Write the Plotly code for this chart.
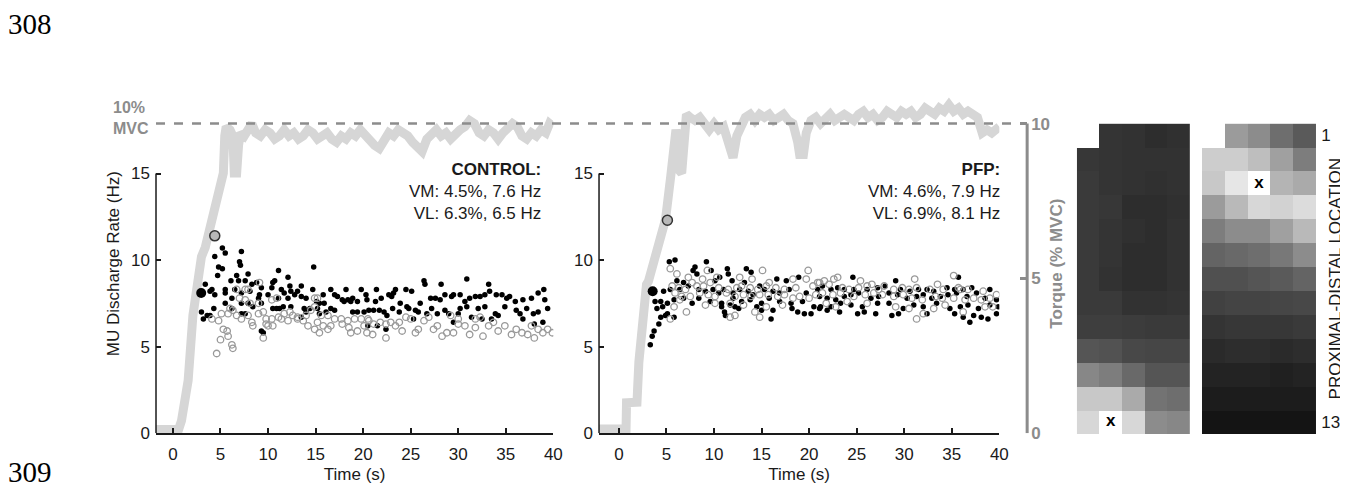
import plotly.graph_objects as go

W, H = 1348, 490
FONT = "Liberation Sans"
GRAY = "#8c8c8c"

# ---- torque traces (% MVC) ----
ctrl_torque_t = [-1.78, 0.6, 0.9, 1.2, 1.6, 2.1, 2.6, 2.9, 3.0, 3.4, 3.75, 4.4, 4.9, 5.3, 5.45, 5.6, 6.0, 6.3,
                 6.45, 6.7, 6.9, 7.1, 7.5, 8.0, 8.3, 8.7, 9.2, 9.7, 10.2, 10.7, 11.2, 11.7, 12.2, 12.7, 13.2,
                 13.7, 14.2, 14.7, 15.2, 15.7, 16.2, 16.7, 17.2, 17.7, 18.2, 18.7, 19.2, 19.7, 20.2, 20.7,
                 21.2, 21.7, 22.2, 22.7, 23.2, 23.7, 24.2, 24.7, 25.2, 25.7, 26.2, 26.7, 27.2, 27.7, 28.2,
                 28.7, 29.2, 29.7, 30.2, 30.7, 31.2, 31.7, 32.2, 32.7, 33.2, 33.7, 34.2, 34.7, 35.2, 35.7,
                 36.2, 36.7, 37.2, 37.7, 38.2, 38.7, 39.2, 39.6, 40.0]
ctrl_torque = [0.12, 0.12, 0.4, 1.0, 1.7, 3.8, 4.9, 5.4, 5.7, 6.0, 6.4, 7.3, 7.8, 8.4, 9.6, 9.9, 9.8, 9.6,
               8.4, 8.4, 9.3, 9.7, 9.6, 9.9, 10.0, 9.7, 9.6, 9.8, 9.7, 9.5, 9.6, 9.8, 9.6, 9.7, 9.5,
               9.6, 9.8, 9.7, 9.5, 9.6, 9.7, 9.5, 9.4, 9.6, 9.5, 9.7, 9.6, 9.8, 9.6, 9.4,
               9.3, 9.2, 9.5, 9.7, 9.6, 9.8, 9.7, 9.6, 9.4, 9.2, 9.1, 9.5, 9.7, 9.8, 9.6,
               9.7, 9.5, 9.7, 9.8, 9.9, 10.1, 10.0, 9.7, 9.6, 9.8, 9.7, 9.5, 9.7, 9.9, 10.0,
               9.9, 9.6, 9.5, 9.7, 9.6, 9.8, 9.7, 10.0, 9.9]

pfp_torque_t = [-2.09, 0.75, 0.8, 1.9, 2.1, 2.5, 2.9, 3.1, 3.7, 4.3, 4.9, 5.45, 5.8, 6.0, 6.15, 6.3, 6.6,
                6.8, 7.1, 7.5, 8.0, 8.5, 9.0, 9.5, 10.0, 10.5, 11.0, 11.4, 11.7, 12.0, 12.4, 12.8, 13.3,
                13.8, 14.3, 14.8, 15.3, 15.8, 16.3, 16.8, 17.3, 17.8, 18.3, 18.8, 19.0, 19.4, 19.7, 20.2,
                20.7, 21.2, 21.7, 22.2, 22.7, 23.2, 23.7, 24.2, 24.7, 25.2, 25.7, 26.2, 26.7, 27.2, 27.7,
                28.2, 28.7, 29.2, 29.7, 30.2, 30.7, 31.2, 31.7, 32.2, 32.7, 33.2, 33.7, 34.2, 34.7, 35.2,
                35.7, 36.2, 36.7, 37.2, 37.7, 38.2, 38.7, 39.2, 39.7, 40.0]
pfp_torque = [0.13, 0.13, 0.98, 1.0, 2.3, 3.8, 4.8, 4.9, 5.6, 6.3, 6.9, 8.3, 9.5, 9.8, 9.5, 8.5, 8.4,
              9.8, 10.3, 10.2, 10.1, 10.2, 10.0, 9.8, 10.0, 9.8, 9.9, 9.4, 9.0, 8.9, 9.6, 9.9, 10.2,
              10.3, 10.1, 10.3, 10.2, 10.3, 10.1, 10.2, 10.3, 10.1, 10.0, 9.4, 9.0, 9.0, 9.7, 10.1,
              10.2, 10.0, 10.2, 10.3, 10.1, 10.2, 10.3, 10.2, 10.1, 10.3, 10.4, 10.2, 10.3, 10.1, 10.2,
              10.4, 10.3, 10.2, 10.4, 10.3, 10.4, 10.2, 10.3, 10.5, 10.4, 10.3, 10.5, 10.4, 10.6, 10.4,
              10.5, 10.3, 10.4, 10.3, 10.2, 9.7, 9.8, 9.7, 9.8, 9.9]

# ---- motor unit discharge rates (time s, Hz) ----
ctrl_vm = [(5.2,10.7),(5.5,10.4),(7.2,10.5),(4.4,10.2),(7.0,9.9),(7.1,9.7),(4.8,9.6),(5.2,9.5),(11.1,9.4),(14.8,9.6),
           (6.7,9.1),(7.9,9.2),(4.7,9.1),(12.1,9.0),(3.4,8.6),(6.1,8.8),(6.9,8.8),(7.6,8.8),(8.8,8.7),(10.7,8.8),
           (10.5,8.7),(4.1,8.3),(3.9,8.2),(5.5,8.3),(6.5,8.3),(8.3,8.6),(9.3,8.4),(10.4,8.4),(11.4,8.3),(12.3,8.5),
           (13.5,8.5),(12.4,8.2),(13.1,8.2),(14.7,8.3),(16.6,8.3),(18.2,8.3),(19.8,8.3),(4.4,8.0),(5.5,8.1),(7.2,8.1),
           (8.1,8.2),(9.1,8.0),(10.0,8.0),(11.7,8.1),(12.8,8.0),(13.5,7.9),(15.8,8.0),(17.0,8.0),(17.3,7.9),(17.8,7.7),
           (18.4,7.7),(18.9,7.8),(19.4,7.6),(20.3,8.0),(6.2,7.8),(9.0,7.8),(11.1,7.8),(12.1,7.8),(14.0,7.8),(15.1,7.6),
           (15.4,7.5),(15.9,7.5),(18.0,7.6),(18.7,7.6),(3.0,7.0),(3.6,6.8),(3.9,6.8),(3.2,6.6),(4.3,7.2),(5.5,7.5),
           (6.2,7.2),(7.2,7.5),(7.9,7.5),(8.4,7.3),(9.3,7.5),(10.5,7.2),(10.9,7.2),(11.2,7.2),(11.6,7.3),(12.4,7.3),
           (13.8,7.2),(14.4,7.2),(15.2,7.2),(16.1,7.0),(16.6,7.2),(17.0,7.1),(18.9,7.0),(19.4,7.0),(20.1,7.0),(7.2,6.9),
           (7.6,6.9),(14.0,7.0),(15.4,6.9),(13.5,6.7),(20.5,6.2),(9.3,5.9),(9.5,5.8),
           (26.4,8.8),(26.5,8.6),(30.9,8.9),(33.2,8.6),(28.2,8.6),(21.4,8.3),(23.4,8.3),(24.5,8.3),(25.1,8.2),(39.0,8.3),
           (20.4,7.7),(21.3,7.6),(21.9,7.8),(22.7,8.0),(23.0,7.9),(23.2,8.1),(23.9,7.5),(24.6,7.3),(26.0,7.5),(27.1,7.8),
           (27.6,7.8),(28.1,7.7),(28.6,8.0),(29.3,7.9),(29.5,8.0),(30.2,8.0),(30.7,7.6),(31.2,7.8),(31.8,7.9),(32.3,7.9),
           (32.8,8.0),(33.3,8.2),(34.0,8.0),(34.6,8.0),(35.1,7.8),(35.4,7.9),(36.0,7.6),(36.8,7.7),(37.7,7.8),(38.4,8.1),
           (39.1,7.7),(20.6,7.1),(21.1,7.1),(21.7,7.1),(22.2,7.0),(23.1,7.2),(23.8,7.0),(24.8,7.2),(25.5,7.1),(25.8,7.0),
           (27.2,7.2),(27.8,6.9),(28.6,7.1),(29.0,6.9),(30.2,7.2),(30.9,7.3),(32.1,7.2),(32.8,7.3),(33.9,6.9),(34.2,6.8),
           (34.9,7.3),(36.1,7.1),(36.5,6.9),(37.2,7.2),(37.9,6.9),(38.4,7.0),(39.4,7.2),(22.5,6.8),(25.3,6.6),(26.7,6.9),
           (30.0,6.9),(31.4,6.7),(32.5,6.6),(33.5,6.6),(36.8,6.6),(38.0,6.3),(38.9,6.4),(21.5,6.2),(22.4,6.0),(29.5,6.4)]

ctrl_vl = [(7.6,8.3),(7.9,8.3),(9.1,8.7),(6.7,8.3),(7.0,7.8),(7.6,7.7),(8.1,7.5),(9.0,7.5),(10.4,7.7),(10.9,7.8),
           (14.9,7.8),(15.2,7.8),(6.0,7.2),(6.3,7.1),(6.7,6.8),(7.9,6.8),(9.0,6.9),(9.5,7.0),(9.8,6.6),(11.1,6.7),
           (11.7,6.9),(12.3,7.0),(12.6,6.8),(13.1,6.7),(14.0,6.8),(14.5,7.1),(14.9,7.3),(15.6,6.8),(16.3,6.8),(17.0,6.6),
           (17.7,6.6),(18.4,6.5),(19.1,6.6),(19.8,6.6),(20.5,6.6),(5.1,6.9),(4.8,6.5),(5.3,6.0),(5.7,5.9),(5.8,5.6),
           (8.3,6.4),(8.4,6.2),(9.8,6.3),(10.0,6.2),(10.5,6.2),(11.4,6.6),(12.1,6.5),(13.1,6.6),(13.7,6.5),(15.2,6.4),
           (15.8,6.2),(16.3,6.0),(16.6,6.2),(17.8,6.3),(18.5,6.1),(19.4,5.9),(20.1,6.2),(5.0,5.4),(6.2,5.1),(6.3,4.9),
           (4.6,4.6),(9.5,5.5),(10.4,6.6),(14.2,6.2),(14.9,6.0),(15.4,5.8),(18.7,5.8),(7.2,6.6),(5.8,6.9),(4.1,6.6),
           (20.6,6.5),(21.1,6.3),(20.4,5.8),(21.0,5.7),(21.8,6.4),(22.4,6.3),(22.9,6.4),(23.4,6.2),(23.8,6.4),(24.1,5.9),
           (24.5,6.7),(25.0,6.6),(25.5,5.8),(25.8,6.0),(26.4,6.5),(26.9,6.7),(27.4,6.0),(27.8,6.2),(28.3,5.6),(28.8,5.8),
           (29.2,6.8),(29.5,5.8),(30.0,6.3),(30.7,6.2),(31.2,5.7),(31.8,6.1),(32.3,6.7),(32.6,5.6),(33.2,6.2),(33.7,6.4),
           (34.2,5.9),(34.9,6.2),(35.6,5.7),(36.1,6.0),(36.7,5.8),(37.3,5.7),(37.7,6.2),(38.4,6.0),(38.9,5.8),(39.4,6.0),
           (39.9,5.8),(22.4,5.5),(38.0,5.5),(31.8,6.6),(30.0,6.6)]

pfp_vm = [(5.3,9.9),(5.9,10.0),(9.2,9.9),(8.0,9.6),(7.8,9.4),(8.2,9.2),(9.7,9.4),(11.4,9.5),(13.4,9.5),(13.9,9.3),
          (11.5,9.2),(6.1,8.8),(6.8,8.7),(7.3,8.5),(10.1,8.8),(11.9,8.8),(10.6,9.0),(16.6,8.9),(17.6,8.8),(18.9,9.0),
          (13.2,8.7),(14.8,8.5),(4.7,8.2),(5.4,8.3),(6.4,8.3),(8.4,8.3),(9.1,8.2),(9.9,8.3),(10.5,8.1),(11.0,8.3),
          (12.0,8.1),(12.7,8.3),(13.6,8.2),(14.1,8.0),(15.3,8.3),(16.2,8.2),(16.9,8.1),(17.9,8.3),(19.7,8.1),(20.9,8.3),
          (3.8,7.6),(4.4,7.6),(5.1,7.5),(5.8,7.7),(6.8,7.8),(7.7,7.5),(8.4,7.8),(9.6,7.6),(10.8,7.5),(12.0,7.8),
          (12.9,7.6),(13.8,7.7),(15.0,7.5),(15.8,7.8),(16.9,7.6),(18.1,7.5),(19.3,7.6),(20.5,7.3),(4.0,7.2),(4.6,7.3),
          (5.1,6.9),(10.8,7.3),(11.7,7.4),(12.2,7.3),(12.6,7.2),(14.5,7.3),(15.0,7.1),(16.2,7.1),(18.2,7.2),(18.8,7.0),
          (19.5,6.9),(20.2,6.9),(21.1,7.2),(4.4,6.7),(4.9,6.8),(5.8,6.7),(11.1,7.0),(11.2,6.8),(16.0,6.6),(4.2,6.3),
          (3.7,5.9),(3.5,5.6),(3.3,5.1),
          (24.6,9.0),(29.1,8.8),(35.7,9.0),(21.4,8.5),(22.3,8.3),(23.0,8.4),(23.7,8.3),(24.7,8.3),(26.1,8.3),(27.2,8.4),
          (28.0,8.5),(29.6,8.3),(30.6,8.2),(31.5,8.3),(32.4,8.3),(33.1,8.2),(34.5,8.4),(35.3,8.3),(36.2,8.3),(37.1,8.4),
          (39.0,8.3),(21.1,7.9),(21.9,7.8),(22.8,7.7),(23.7,7.9),(24.4,8.0),(25.2,8.1),(26.5,7.8),(27.3,7.9),(28.4,8.1),
          (29.3,8.0),(30.3,7.8),(31.3,7.9),(32.0,8.0),(32.9,7.8),(33.8,7.9),(34.6,8.0),(35.5,8.1),(36.6,7.9),(37.6,8.1),
          (38.5,7.8),(39.7,7.7),(21.2,7.3),(22.3,7.3),(23.3,7.5),(24.4,7.4),(25.6,7.3),(27.2,7.5),(28.4,7.5),(29.9,7.2),
          (31.0,7.4),(32.0,7.3),(33.4,7.5),(34.8,7.2),(35.9,7.3),(36.7,7.4),(37.8,7.2),(39.0,7.4),(39.9,7.3),(21.9,7.1),
          (23.2,7.0),(25.1,6.9),(25.8,7.0),(27.0,6.9),(28.7,6.8),(29.4,6.9),(32.4,6.9),(35.3,6.9),(36.2,6.7),(37.3,6.8),
          (38.1,6.7),(38.8,6.6),(39.7,6.9),(36.9,6.4)]

pfp_vl = [(5.4,9.5),(6.1,9.2),(7.3,9.0),(9.3,9.4),(8.8,8.9),(10.3,9.0),(12.7,9.0),(14.0,8.9),(15.1,9.4),(15.8,8.7),
          (18.3,8.9),(19.7,8.9),(19.9,9.4),(20.9,8.7),(5.6,8.5),(6.3,8.4),(7.0,8.3),(7.7,8.7),(8.2,8.5),(8.9,8.5),
          (9.6,8.7),(10.5,8.4),(11.5,8.3),(12.4,8.4),(12.9,8.5),(13.8,8.4),(14.6,8.3),(15.5,8.5),(16.5,8.4),(17.4,8.3),
          (18.6,8.4),(20.4,8.5),(5.9,8.1),(6.6,7.9),(7.5,7.9),(8.5,8.1),(9.4,8.0),(10.1,7.9),(11.3,8.1),(12.2,7.9),
          (13.1,8.0),(13.9,7.9),(14.8,8.0),(15.7,8.0),(16.7,7.9),(17.4,8.0),(18.3,7.8),(19.0,7.9),(20.0,7.8),(20.7,8.0),
          (5.8,7.3),(6.4,7.7),(9.1,7.4),(10.1,7.5),(11.7,7.5),(13.1,7.4),(15.5,7.3),(17.2,7.4),(5.4,6.6),(7.1,7.0),
          (11.7,6.7),(12.2,6.8),(14.3,7.0),(14.8,6.7),
          (21.1,8.7),(21.6,8.8),(22.1,8.6),(22.6,8.9),(23.0,9.0),(25.4,8.8),(26.1,8.5),(26.6,8.6),(31.1,8.9),(33.5,8.6),
          (35.2,9.1),(35.7,8.4),(23.5,8.4),(24.2,8.3),(25.2,8.4),(27.3,8.3),(27.9,8.5),(28.9,8.3),(29.8,8.4),(30.5,8.3),
          (31.3,8.4),(32.7,8.3),(34.1,8.3),(35.9,8.3),(36.7,8.3),(38.3,8.2),(39.7,8.0),(21.4,8.1),(22.5,8.0),(23.3,8.1),
          (24.7,7.9),(25.9,8.0),(26.8,8.1),(27.7,8.0),(28.9,7.9),(29.9,8.0),(30.8,7.8),(31.9,7.7),(33.3,7.9),(34.0,7.8),
          (35.2,7.8),(36.4,7.7),(37.3,7.8),(38.1,7.7),(39.0,7.8),(21.8,7.5),(24.0,7.6),(26.1,7.5),(29.1,7.3),(30.5,7.2),
          (32.0,6.9),(33.1,7.2),(34.3,7.4),(36.2,7.0),(38.5,7.3),(39.3,7.3),(31.3,6.6),(22.8,7.3)]

# first-recruited units (big markers)
ctrl_first_vm = (2.97, 8.1)
ctrl_first_vl = (4.4, 11.4)
pfp_first_vm = (3.55, 8.2)
pfp_first_vl = (5.1, 12.3)

# ---- HD-EMG maps (gray level 0-255), 13 rows x 5 cols ----
vm_map = [[None, 52, 50, 45, 48],
          [55, 52, 50, 50, 50],
          [58, 52, 50, 48, 50],
          [58, 55, 45, 45, 48],
          [58, 52, 48, 45, 50],
          [58, 52, 45, 45, 50],
          [58, 50, 45, 45, 50],
          [58, 58, 50, 50, 52],
          [62, 62, 60, 58, 58],
          [85, 82, 72, 70, 70],
          [135, 125, 105, 85, 85],
          [200, 200, 170, 115, 110],
          [215, 255, 215, 140, 135]]
vl_map = [[None, 155, 140, 110, 90],
          [205, 205, 190, 160, 125],
          [200, 230, 255, 180, 170],
          [155, 185, 215, 210, 220],
          [125, 140, 140, 160, 185],
          [100, 105, 110, 120, 140],
          [80, 80, 85, 90, 100],
          [65, 68, 68, 70, 72],
          [52, 55, 55, 55, 58],
          [42, 45, 45, 42, 45],
          [35, 35, 35, 32, 35],
          [28, 28, 28, 28, 28],
          [20, 20, 20, 20, 20]]
vm_peak = (1, 12)
vl_peak = (2, 2)

time_ticks = [0, 5, 10, 15, 20, 25, 30, 35, 40]
rate_ticks = [0, 5, 10, 15]
torque_ticks = [0, 5, 10]


def px(x):
    return x / W


def py(y):
    return 1 - y / H


TORQUE_TOP = (434 - 88) / 31.6
RATE_TOP = (434 - 88) / 17.67

fig = go.Figure()


def add_panel(xa, ya_t, ya_r, tt, tv, vm, vl, first_vm, first_vl):
    fig.add_trace(go.Scatter(x=tt, y=tv, xaxis=xa, yaxis=ya_t, mode="lines",
                             line=dict(color="#d6d6d6", width=9), hoverinfo="skip"))
    fig.add_trace(go.Scatter(x=[p[0] for p in vm], y=[p[1] for p in vm], xaxis=xa, yaxis=ya_r,
                             mode="markers", marker=dict(color="black", size=5.5)))
    fig.add_trace(go.Scatter(x=[p[0] for p in vl], y=[p[1] for p in vl], xaxis=xa, yaxis=ya_r,
                             mode="markers", marker=dict(symbol="circle-open", color="#999999", size=6.5,
                                                         line=dict(width=1.3))))
    fig.add_trace(go.Scatter(x=[first_vm[0]], y=[first_vm[1]], xaxis=xa, yaxis=ya_r, mode="markers",
                             marker=dict(color="black", size=10)))
    fig.add_trace(go.Scatter(x=[first_vl[0]], y=[first_vl[1]], xaxis=xa, yaxis=ya_r, mode="markers",
                             marker=dict(color="#b8b8b8", size=10, line=dict(color="#333333", width=1.5))))


add_panel("x", "y", "y2", ctrl_torque_t, ctrl_torque, ctrl_vm, ctrl_vl, ctrl_first_vm, ctrl_first_vl)
add_panel("x2", "y3", "y4", pfp_torque_t, pfp_torque, pfp_vm, pfp_vl, pfp_first_vm, pfp_first_vl)

gray_scale = [[0, "black"], [1, "white"]]
for xa, ya, z, peak in [("x5", "y5", vm_map, vm_peak), ("x6", "y6", vl_map, vl_peak)]:
    fig.add_trace(go.Heatmap(z=z, xaxis=xa, yaxis=ya, colorscale=gray_scale, zmin=0, zmax=255,
                             showscale=False, hoverinfo="skip"))
    fig.add_trace(go.Scatter(x=[peak[0]], y=[peak[1]], xaxis=xa, yaxis=ya, mode="text", text=["<b>x</b>"],
                             textfont=dict(family=FONT, size=17, color="black")))

tick_font = dict(family=FONT, size=17, color="#1a1a1a")
title_font = dict(family=FONT, size=17, color="#1a1a1a")
dom_y = [py(434), py(88)]

time_axis = dict(tickvals=time_ticks, ticks="inside", ticklen=5, tickwidth=1.5,
                 tickcolor="#1a1a1a", showline=True, linecolor="#1a1a1a", linewidth=1.5,
                 showgrid=False, zeroline=False, tickfont=tick_font, ticklabelstandoff=5,
                 title=dict(text="Time (s)", font=title_font, standoff=5))
rate_axis = dict(range=[0, RATE_TOP], tickvals=rate_ticks, ticks="inside", ticklen=5, tickwidth=1.5,
                 tickcolor="#1a1a1a", showline=False, showgrid=False, zeroline=False, side="left",
                 tickfont=tick_font, ticklabelstandoff=5)

fig.update_layout(
    width=W, height=H, margin=dict(l=0, r=0, t=0, b=0),
    paper_bgcolor="white", plot_bgcolor="rgba(0,0,0,0)", showlegend=False,
    xaxis=dict(time_axis, domain=[px(149), px(549)], range=[-1.78, 40], anchor="y"),
    xaxis2=dict(time_axis, domain=[px(595), px(998)], range=[-2.09, 40], anchor="y3"),
    yaxis=dict(domain=dom_y, range=[0, TORQUE_TOP], visible=False, anchor="x"),
    yaxis2=dict(rate_axis, overlaying="y", anchor="x",
                title=dict(text="MU Discharge Rate (Hz)", font=title_font, standoff=7)),
    yaxis3=dict(domain=dom_y, range=[0, TORQUE_TOP], anchor="free", position=px(1026), side="right",
                tickvals=torque_ticks, ticks="inside", ticklen=7, tickwidth=3, tickcolor=GRAY,
                showline=False, showgrid=False, zeroline=False, ticklabelstandoff=3,
                tickfont=dict(family=FONT, size=17, color=GRAY, weight="bold"),
                title=dict(text="Torque (% MVC)", standoff=1,
                           font=dict(family=FONT, size=17, color=GRAY, weight="bold"))),
    yaxis4=dict(rate_axis, overlaying="y3", anchor="x2"),
    xaxis5=dict(domain=[px(1076), px(1190)], range=[-0.5, 4.5], visible=False, anchor="y5"),
    yaxis5=dict(domain=[py(435), py(118)], range=[12.5, -0.5], visible=False, anchor="x5"),
    xaxis6=dict(domain=[px(1202), px(1317)], range=[-0.5, 4.5], visible=False, anchor="y6"),
    yaxis6=dict(domain=[py(435), py(118)], range=[12.5, -0.5], anchor="x6", side="right",
                tickvals=[0, 12], ticktext=["1", "13"], ticks="", showline=False, showgrid=False,
                zeroline=False, tickfont=tick_font, ticklabelstandoff=4),
)

# axis lines for the rate scale (only 0-15) and the torque scale (0-10)
shapes = [
    dict(type="line", xref="x domain", x0=0, x1=0, yref="y2", y0=0, y1=15,
         line=dict(color="#1a1a1a", width=1.5)),
    dict(type="line", xref="x2 domain", x0=0, x1=0, yref="y4", y0=0, y1=15,
         line=dict(color="#1a1a1a", width=1.5)),
    dict(type="line", xref="paper", x0=px(1026), x1=px(1026), yref="y3", y0=0, y1=10,
         line=dict(color=GRAY, width=3)),
    dict(type="line", xref="paper", x0=px(149), x1=px(1022), yref="y3", y0=10, y1=10,
         line=dict(color=GRAY, width=2.5, dash="dash")),
]
for s in shapes:
    fig.add_shape(**s)

annotations = [
    dict(text="308", x=px(-2), y=py(-2), xanchor="left", yanchor="top",
         font=dict(family="Liberation Serif", size=29, color="black")),
    dict(text="309", x=px(-2), y=py(455), xanchor="left", yanchor="top",
         font=dict(family="Liberation Serif", size=29, color="black")),
    dict(text="10%<br>MVC", x=px(104), y=py(91), xanchor="left", yanchor="top", align="left",
         font=dict(family=FONT, size=16, color=GRAY, weight="bold")),
    dict(text="<b>CONTROL:</b><br>VM: 4.5%, 7.6 Hz<br>VL: 6.3%, 6.5 Hz", x=px(539), y=py(153),
         xanchor="right", yanchor="top", align="right", font=dict(family=FONT, size=17, color="#1a1a1a")),
    dict(text="<b>PFP:</b><br>VM: 4.6%, 7.9 Hz<br>VL: 6.9%, 8.1 Hz", x=px(1001), y=py(153),
         xanchor="right", yanchor="top", align="right", font=dict(family=FONT, size=17, color="#1a1a1a")),
    dict(text="PROXIMAL-DISTAL LOCATION", x=px(1336), y=py(276), textangle=-90,
         xanchor="center", yanchor="middle", font=dict(family=FONT, size=17, color="#1a1a1a")),
]
for a in annotations:
    fig.add_annotation(xref="paper", yref="paper", showarrow=False, **a)

fig.write_html("out.html")
